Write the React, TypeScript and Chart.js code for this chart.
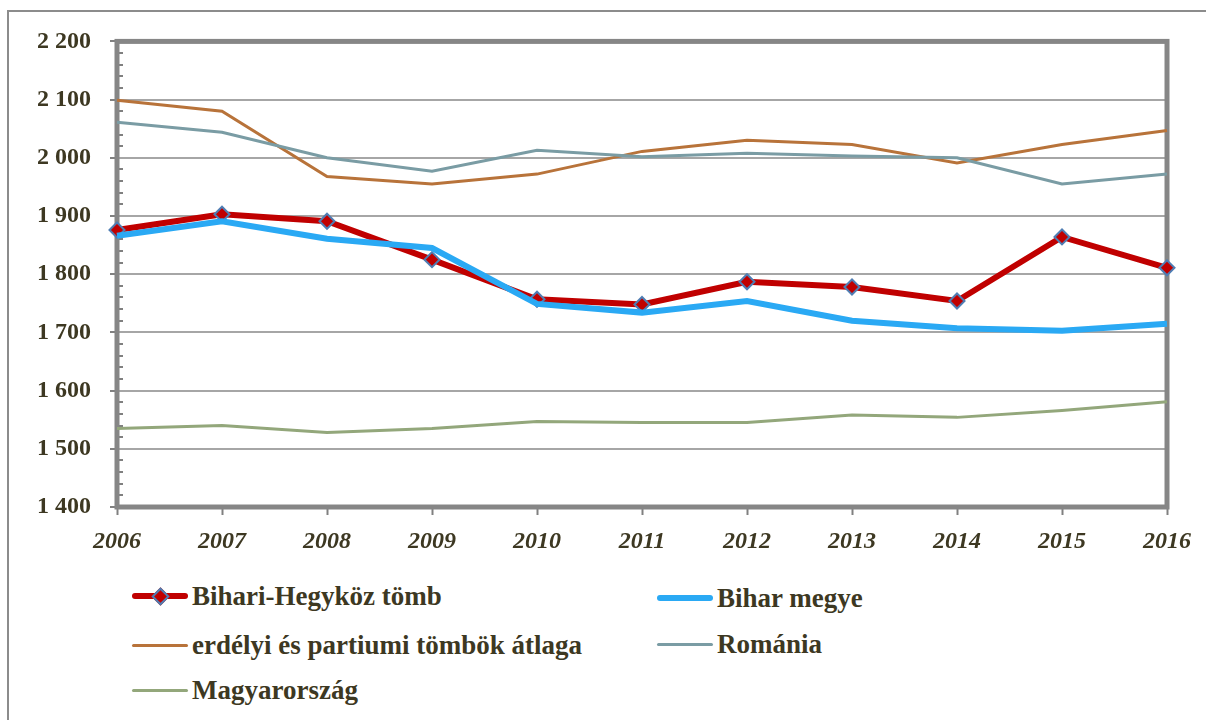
import React, { useEffect, useRef } from "react";
import { Chart, registerables } from "chart.js";

Chart.register(...registerables);

const years = ["2006", "2007", "2008", "2009", "2010", "2011", "2012", "2013", "2014", "2015", "2016"];
const biharHegykoz = [1876, 1903, 1891, 1825, 1757, 1748, 1787, 1778, 1754, 1864, 1811];
const biharMegye = [1866, 1891, 1861, 1845, 1749, 1734, 1754, 1720, 1707, 1703, 1715];
const erdelyiAtlag = [2099, 2080, 1968, 1955, 1972, 2011, 2030, 2023, 1991, 2023, 2047];
const romania = [2061, 2044, 2000, 1977, 2013, 2002, 2008, 2003, 2000, 1955, 1972];
const magyarorszag = [1535, 1540, 1528, 1535, 1547, 1545, 1545, 1558, 1554, 1566, 1581];

const seriesNames = [
  "Bihari-Hegyköz tömb",
  "Bihar megye",
  "erdélyi és partiumi tömbök átlaga",
  "Románia",
  "Magyarország",
];
const seriesColors = ["#c00000", "#2aa9f4", "#b8733a", "#7a9ca4", "#93a77b"];
const seriesWidths = [6, 6, 3, 3, 3];

const yMin = 1400;
const yMax = 2200;
const yStep = 100;
const minorStep = 20;

const TEXT = "#3d3822";
const FONT = "'Liberation Serif', 'DejaVu Serif', serif";

function fmt(v: number) {
  const th = Math.floor(v / 1000);
  const rest = String(v % 1000).padStart(3, "0");
  return `${th} ${rest}`;
}

const framePlugin = {
  id: "framePlugin",
  beforeDatasetsDraw(chart: any) {
    const { ctx, chartArea } = chart;
    const y = chart.scales.y;
    ctx.save();
    ctx.strokeStyle = "#808080";
    ctx.lineWidth = 2;
    for (let v = yMin; v <= yMax; v += minorStep) {
      if (v % yStep === 0) continue;
      const py = Math.round(y.getPixelForValue(v));
      ctx.beginPath();
      ctx.moveTo(chartArea.left, py);
      ctx.lineTo(chartArea.left + 6, py);
      ctx.stroke();
    }
    ctx.strokeStyle = "#868686";
    ctx.lineWidth = 5;
    ctx.strokeRect(chartArea.left, chartArea.top, chartArea.right - chartArea.left, chartArea.bottom - chartArea.top);
    ctx.restore();
  },
};

const legendItems = [
  { idx: 0, x: 132, y: 596, diamond: true },
  { idx: 1, x: 657, y: 598, diamond: false },
  { idx: 2, x: 132, y: 645, diamond: false },
  { idx: 3, x: 657, y: 644, diamond: false },
  { idx: 4, x: 132, y: 690, diamond: false },
];

export default function App() {
  const ref = useRef<HTMLCanvasElement | null>(null);

  useEffect(() => {
    if (!ref.current) return;
    const data = [biharHegykoz, biharMegye, erdelyiAtlag, romania, magyarorszag];
    const datasets = data.map((d, i) => ({
      label: seriesNames[i],
      data: d,
      borderColor: seriesColors[i],
      backgroundColor: seriesColors[i],
      borderWidth: seriesWidths[i],
      tension: 0,
      order: 5 - i,
      clip: 12,
      pointStyle: i === 0 ? "rectRot" : "circle",
      pointRadius: i === 0 ? 7.5 : 0,
      pointHoverRadius: i === 0 ? 7.5 : 0,
      pointBackgroundColor: i === 0 ? "#c00000" : seriesColors[i],
      pointBorderColor: i === 0 ? "#4f7db3" : seriesColors[i],
      pointBorderWidth: i === 0 ? 2 : 0,
    }));
    const chart = new Chart(ref.current, {
      type: "line",
      data: { labels: years, datasets: datasets as any },
      options: {
        animation: false,
        responsive: false,
        maintainAspectRatio: false,
        layout: { padding: { left: 0, right: 39, top: 32, bottom: 0 } },
        plugins: { legend: { display: false }, tooltip: { enabled: false } },
        scales: {
          x: {
            offset: false,
            grid: {
              drawOnChartArea: false,
              drawTicks: true,
              tickLength: 8,
              tickWidth: 2,
              tickColor: "#808080",
            },
            border: { display: false },
            ticks: {
              color: TEXT,
              font: { family: FONT, size: 24, weight: "bold", style: "italic" },
              padding: 12,
              maxRotation: 0,
              autoSkip: false,
            },
            afterFit(scale: any) {
              scale.height = 61;
            },
          },
          y: {
            min: yMin,
            max: yMax,
            grid: {
              color: "#a6a6a6",
              lineWidth: 2,
              tickLength: 7,
              tickWidth: 2,
              tickColor: "#808080",
            },
            border: { display: false },
            ticks: {
              stepSize: yStep,
              color: TEXT,
              font: { family: FONT, size: 24, weight: "bold" },
              padding: 19,
              callback: (v: any) => fmt(Number(v)),
            },
            afterFit(scale: any) {
              scale.width = 109;
            },
          },
        },
      },
      plugins: [framePlugin],
    });
    return () => chart.destroy();
  }, []);

  return (
    <div
      style={{
        position: "fixed",
        left: 0,
        top: 0,
        width: 1206,
        height: 720,
        overflow: "hidden",
        background: "#fff",
      }}
    >
      <div
        style={{
          position: "absolute",
          left: 7,
          top: 10,
          width: 1400,
          height: 1000,
          border: "2px solid #8c8c8c",
          boxSizing: "border-box",
        }}
      />
      <canvas
        ref={ref}
        width={1198}
        height={560}
        style={{ position: "absolute", left: 8, top: 8, width: 1198, height: 560 }}
      />
      {legendItems.map((it) => (
        <div
          key={it.idx}
          style={{
            position: "absolute",
            left: it.x,
            top: it.y - 20,
            height: 40,
            display: "flex",
            alignItems: "center",
            whiteSpace: "nowrap",
          }}
        >
          <div style={{ position: "relative", width: 56, height: 40, display: "flex", alignItems: "center" }}>
            <div
              style={{
                width: 56,
                height: seriesWidths[it.idx],
                background: seriesColors[it.idx],
                borderRadius: 3,
              }}
            />
            {it.diamond && (
              <div
                style={{
                  position: "absolute",
                  left: 22,
                  top: 14,
                  width: 9,
                  height: 9,
                  background: "#c00000",
                  border: "2px solid #4f7db3",
                  transform: "rotate(45deg)",
                }}
              />
            )}
          </div>
          <span
            style={{
              marginLeft: 4,
              fontFamily: FONT,
              fontWeight: "bold",
              fontSize: 27,
              color: TEXT,
              lineHeight: "40px",
            }}
          >
            {seriesNames[it.idx]}
          </span>
        </div>
      ))}
    </div>
  );
}
